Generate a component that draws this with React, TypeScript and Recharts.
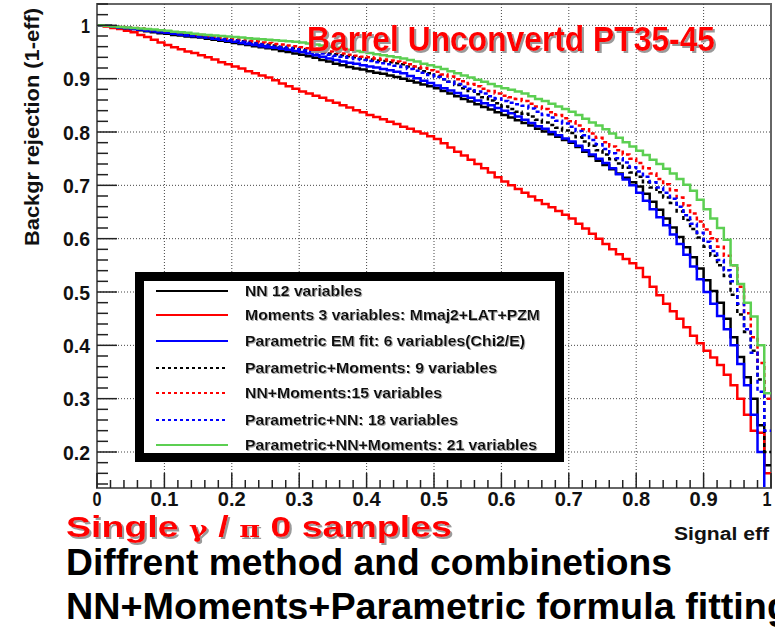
import { LineChart, Line, XAxis, YAxis, ReferenceLine, ReferenceArea } from 'recharts';

// background rejection per signal-eff bin (bin width 0.01, first bin at 0)
const BIN_WIDTH = 0.01;

const nn12 = [
  1.000, 0.999, 0.997, 0.996, 0.994, 0.993, 0.991, 0.989, 0.987, 0.985,
  0.984, 0.982, 0.981, 0.979, 0.978, 0.977, 0.975, 0.973, 0.971, 0.969,
  0.967, 0.965, 0.963, 0.961, 0.959, 0.957, 0.955, 0.952, 0.950, 0.947,
  0.945, 0.942, 0.939, 0.935, 0.932, 0.928, 0.925, 0.922, 0.919, 0.917,
  0.914, 0.911, 0.909, 0.906, 0.903, 0.900, 0.896, 0.893, 0.889, 0.886,
  0.882, 0.877, 0.872, 0.867, 0.862, 0.857, 0.852, 0.847, 0.842, 0.837,
  0.832, 0.827, 0.822, 0.817, 0.812, 0.806, 0.801, 0.796, 0.791, 0.785,
  0.780, 0.772, 0.763, 0.755, 0.746, 0.738, 0.730, 0.722, 0.714, 0.706,
  0.698, 0.684, 0.669, 0.654, 0.638, 0.621, 0.603, 0.584, 0.565, 0.544,
  0.522, 0.502, 0.480, 0.450, 0.415, 0.378, 0.340, 0.300, 0.250, 0.175,
];

const moments3 = [
  1.000, 0.998, 0.995, 0.993, 0.990, 0.987, 0.982, 0.978, 0.973, 0.968,
  0.963, 0.959, 0.955, 0.951, 0.948, 0.944, 0.940, 0.936, 0.931, 0.927,
  0.923, 0.919, 0.914, 0.910, 0.906, 0.902, 0.897, 0.891, 0.886, 0.881,
  0.876, 0.872, 0.868, 0.864, 0.859, 0.855, 0.850, 0.846, 0.841, 0.837,
  0.832, 0.828, 0.824, 0.819, 0.815, 0.810, 0.806, 0.801, 0.797, 0.792,
  0.787, 0.779, 0.771, 0.763, 0.756, 0.748, 0.740, 0.732, 0.724, 0.715,
  0.707, 0.700, 0.693, 0.686, 0.679, 0.672, 0.665, 0.659, 0.652, 0.645,
  0.638, 0.628, 0.619, 0.609, 0.600, 0.590, 0.580, 0.571, 0.562, 0.554,
  0.545, 0.528, 0.510, 0.494, 0.478, 0.464, 0.450, 0.434, 0.418, 0.404,
  0.390, 0.377, 0.363, 0.345, 0.325, 0.300, 0.270, 0.240, 0.236, 0.160,
];

const paramEm6 = [
  1.000, 0.999, 0.998, 0.996, 0.995, 0.993, 0.992, 0.990, 0.989, 0.987,
  0.986, 0.984, 0.983, 0.981, 0.980, 0.978, 0.977, 0.975, 0.973, 0.971,
  0.969, 0.967, 0.965, 0.963, 0.961, 0.959, 0.958, 0.956, 0.954, 0.952,
  0.950, 0.947, 0.944, 0.941, 0.938, 0.935, 0.932, 0.930, 0.928, 0.925,
  0.923, 0.921, 0.918, 0.916, 0.913, 0.910, 0.905, 0.901, 0.896, 0.892,
  0.887, 0.882, 0.878, 0.873, 0.868, 0.864, 0.859, 0.854, 0.850, 0.845,
  0.840, 0.835, 0.829, 0.823, 0.817, 0.811, 0.806, 0.800, 0.794, 0.788,
  0.782, 0.774, 0.766, 0.758, 0.750, 0.742, 0.732, 0.721, 0.711, 0.700,
  0.686, 0.671, 0.655, 0.640, 0.625, 0.608, 0.590, 0.570, 0.548, 0.524,
  0.500, 0.478, 0.455, 0.430, 0.400, 0.365, 0.325, 0.270, 0.200, 0.110,
];

const paramMom9 = [
  1.000, 0.999, 0.998, 0.997, 0.995, 0.994, 0.993, 0.991, 0.990, 0.988,
  0.987, 0.986, 0.984, 0.983, 0.981, 0.980, 0.978, 0.977, 0.975, 0.974,
  0.972, 0.970, 0.969, 0.967, 0.965, 0.964, 0.962, 0.960, 0.958, 0.957,
  0.955, 0.953, 0.951, 0.949, 0.947, 0.946, 0.944, 0.942, 0.940, 0.938,
  0.936, 0.934, 0.933, 0.931, 0.929, 0.927, 0.923, 0.919, 0.914, 0.910,
  0.905, 0.899, 0.894, 0.888, 0.882, 0.877, 0.871, 0.865, 0.859, 0.854,
  0.848, 0.843, 0.838, 0.834, 0.829, 0.823, 0.818, 0.813, 0.808, 0.803,
  0.798, 0.790, 0.782, 0.774, 0.766, 0.758, 0.749, 0.741, 0.733, 0.724,
  0.716, 0.706, 0.696, 0.687, 0.677, 0.667, 0.651, 0.635, 0.618, 0.602,
  0.585, 0.568, 0.550, 0.530, 0.495, 0.458, 0.425, 0.390, 0.336, 0.200,
];

const nnMom15 = [
  1.000, 0.999, 0.998, 0.997, 0.996, 0.995, 0.994, 0.992, 0.991, 0.990,
  0.989, 0.987, 0.986, 0.985, 0.983, 0.982, 0.980, 0.979, 0.977, 0.976,
  0.974, 0.973, 0.971, 0.970, 0.968, 0.967, 0.965, 0.964, 0.962, 0.961,
  0.959, 0.957, 0.955, 0.953, 0.951, 0.949, 0.947, 0.945, 0.943, 0.941,
  0.940, 0.938, 0.936, 0.934, 0.932, 0.930, 0.927, 0.923, 0.920, 0.916,
  0.913, 0.908, 0.904, 0.899, 0.895, 0.890, 0.886, 0.881, 0.877, 0.872,
  0.868, 0.865, 0.862, 0.858, 0.853, 0.848, 0.843, 0.837, 0.832, 0.826,
  0.820, 0.812, 0.805, 0.797, 0.789, 0.781, 0.773, 0.766, 0.758, 0.750,
  0.742, 0.732, 0.722, 0.712, 0.702, 0.691, 0.677, 0.662, 0.647, 0.632,
  0.617, 0.601, 0.585, 0.568, 0.550, 0.510, 0.460, 0.415, 0.367, 0.300,
];

const paramNn18 = [
  1.000, 0.999, 0.998, 0.996, 0.995, 0.994, 0.992, 0.991, 0.989, 0.988,
  0.986, 0.985, 0.983, 0.982, 0.980, 0.979, 0.977, 0.976, 0.974, 0.972,
  0.971, 0.969, 0.967, 0.966, 0.964, 0.962, 0.960, 0.959, 0.957, 0.955,
  0.953, 0.951, 0.949, 0.947, 0.945, 0.943, 0.941, 0.939, 0.937, 0.935,
  0.933, 0.931, 0.929, 0.927, 0.924, 0.922, 0.918, 0.915, 0.911, 0.907,
  0.903, 0.899, 0.894, 0.890, 0.885, 0.881, 0.876, 0.872, 0.867, 0.863,
  0.858, 0.855, 0.852, 0.849, 0.844, 0.838, 0.832, 0.827, 0.821, 0.816,
  0.810, 0.802, 0.794, 0.785, 0.777, 0.768, 0.760, 0.751, 0.743, 0.734,
  0.726, 0.716, 0.706, 0.696, 0.686, 0.675, 0.660, 0.644, 0.628, 0.611,
  0.594, 0.577, 0.560, 0.541, 0.520, 0.478, 0.430, 0.386, 0.313, 0.240,
];

const allVars21 = [
  1.000, 0.999, 0.998, 0.997, 0.996, 0.995, 0.994, 0.993, 0.992, 0.991,
  0.990, 0.988, 0.987, 0.986, 0.984, 0.983, 0.982, 0.981, 0.980, 0.979,
  0.978, 0.977, 0.976, 0.975, 0.974, 0.973, 0.972, 0.971, 0.970, 0.969,
  0.968, 0.966, 0.964, 0.962, 0.960, 0.958, 0.956, 0.954, 0.952, 0.950,
  0.948, 0.946, 0.944, 0.942, 0.940, 0.938, 0.935, 0.932, 0.928, 0.925,
  0.922, 0.918, 0.914, 0.910, 0.906, 0.902, 0.898, 0.894, 0.890, 0.886,
  0.882, 0.879, 0.876, 0.872, 0.867, 0.862, 0.858, 0.853, 0.848, 0.843,
  0.838, 0.832, 0.825, 0.818, 0.812, 0.805, 0.797, 0.789, 0.781, 0.773,
  0.765, 0.757, 0.748, 0.740, 0.731, 0.722, 0.712, 0.701, 0.690, 0.673,
  0.655, 0.638, 0.620, 0.598, 0.550, 0.515, 0.480, 0.454, 0.400, 0.310,
];

const xTicks = [
  0, 0.02, 0.04, 0.06, 0.08, 0.1, 0.12, 0.14, 0.16, 0.18, 0.2, 0.22, 0.24, 0.26, 0.28,
  0.3, 0.32, 0.34, 0.36, 0.38, 0.4, 0.42, 0.44, 0.46, 0.48, 0.5, 0.52, 0.54, 0.56, 0.58,
  0.6, 0.62, 0.64, 0.66, 0.68, 0.7, 0.72, 0.74, 0.76, 0.78, 0.8, 0.82, 0.84, 0.86, 0.88,
  0.9, 0.92, 0.94, 0.96, 0.98, 1,
];
const yTicks = [
  0.14, 0.16, 0.18, 0.2, 0.22, 0.24, 0.26, 0.28, 0.3, 0.32, 0.34, 0.36, 0.38, 0.4, 0.42,
  0.44, 0.46, 0.48, 0.5, 0.52, 0.54, 0.56, 0.58, 0.6, 0.62, 0.64, 0.66, 0.68, 0.7, 0.72,
  0.74, 0.76, 0.78, 0.8, 0.82, 0.84, 0.86, 0.88, 0.9, 0.92, 0.94, 0.96, 0.98, 1, 1.02, 1.04,
];
const xGrid = [0.1, 0.2, 0.3, 0.4, 0.5, 0.6, 0.7, 0.8, 0.9];
const yGrid = [0.2, 0.3, 0.4, 0.5, 0.6, 0.7, 0.8, 0.9, 1];

const series = [
  { key: 'nn12', values: nn12, name: 'NN 12 variables', color: '#000000', dash: undefined },
  { key: 'moments3', values: moments3, name: 'Moments 3 variables: Mmaj2+LAT+PZM', color: '#ff0000', dash: undefined },
  { key: 'paramEm6', values: paramEm6, name: 'Parametric EM fit: 6 variables(Chi2/E)', color: '#0000ff', dash: undefined },
  { key: 'paramMom9', values: paramMom9, name: 'Parametric+Moments: 9 variables', color: '#000000', dash: '4 3' },
  { key: 'nnMom15', values: nnMom15, name: 'NN+Moments:15 variables', color: '#ff0000', dash: '4 3' },
  { key: 'paramNn18', values: paramNn18, name: 'Parametric+NN: 18 variables', color: '#0000ff', dash: '4 3' },
  { key: 'allVars21', values: allVars21, name: 'Parametric+NN+Moments: 21 variables', color: '#5ccf52', dash: undefined },
];
const legendWidths = [117, 295, 280, 252, 197, 213, 292];

// histogram-style table: one row per bin start, plus a closing row at x = 1
const rows = nn12.map((_, i) => {
  const row: Record<string, number> = { x: +(i * BIN_WIDTH).toFixed(2) };
  series.forEach((s) => (row[s.key] = s.values[i]));
  return row;
});
rows.push({ ...rows[rows.length - 1], x: 1 });

const FONT = '"Liberation Sans", Arial, Helvetica, sans-serif';
const LEFT = 97;
const BOTTOM = 488;
const Y_MIN = 0.1325;
const Y_MAX = 1.04;

const isMajor = (v: number) => Math.abs(v * 10 - Math.round(v * 10)) < 1e-6;
const fmt = (v: number) => (v === 0 ? '0' : v === 1 ? '1' : v.toFixed(1));

function YTick({ y, payload }: any) {
  const v = payload.value;
  const major = isMajor(v);
  return (
    <g>
      <line x1={LEFT} x2={LEFT + (major ? 20 : 11)} y1={y} y2={y} stroke="#222" strokeWidth={1.5} />
      {major && (
        <text x={90} y={y} dy="0.36em" textAnchor="end" fontFamily={FONT} fontWeight="bold" fontSize={21}
          fill="#111" textLength={fmt(v).length > 1 ? 27 : 9} lengthAdjust="spacingAndGlyphs">
          {fmt(v)}
        </text>
      )}
    </g>
  );
}

function XTick({ x, payload }: any) {
  const v = payload.value;
  const major = isMajor(v);
  const cx = v === 1 ? x - 4 : x;
  return (
    <g>
      <line x1={x} x2={x} y1={BOTTOM} y2={BOTTOM - (major ? 15 : 8)} stroke="#222" strokeWidth={1.5} />
      {major && (
        <text x={cx} y={506} textAnchor="middle" fontFamily={FONT} fontWeight="bold" fontSize={21}
          fill="#111" textLength={fmt(v).length > 1 ? 28 : 9} lengthAdjust="spacingAndGlyphs">
          {fmt(v)}
        </text>
      )}
    </g>
  );
}

function Overlay() {
  const rowY = [291, 315, 341, 368, 393, 420, 445];
  return (
    <svg width={775} height={633} style={{ position: 'absolute', left: 0, top: 0, pointerEvents: 'none' }}>
      <defs>
        <filter id="shadow2" x="-5%" y="-20%" width="110%" height="150%">
          <feDropShadow dx={2} dy={2} stdDeviation={0.4} floodColor="#9a9a9a" floodOpacity={1} />
        </filter>
        <filter id="shadow1" x="-5%" y="-20%" width="110%" height="150%">
          <feDropShadow dx={1} dy={1} stdDeviation={0.3} floodColor="#a8a8a8" floodOpacity={1} />
        </filter>
      </defs>
      <text transform="translate(39,127) rotate(-90)" textAnchor="middle" fontFamily={FONT} fontWeight="bold"
        fontSize={20} fill="#111" textLength={238} lengthAdjust="spacingAndGlyphs">
        Backgr rejection (1-eff)
      </text>
      <text x={307} y={51} fontFamily={FONT} fontWeight="bold" fontSize={35} fill="#ff0000" filter="url(#shadow2)"
        textLength={408} lengthAdjust="spacingAndGlyphs">
        Barrel Unconvertd PT35-45
      </text>

      <rect x={139.5} y={276.5} width={420} height={181} fill="#ffffff" stroke="#000" strokeWidth={9} />
      {series.map((s, i) => (
        <g key={s.key}>
          <line x1={156} x2={228} y1={rowY[i]} y2={rowY[i]} stroke={s.color} strokeWidth={2.2}
            strokeDasharray={s.dash ? '3 3' : undefined} />
          <text x={245} y={rowY[i] + 5} fontFamily={FONT} fontWeight="bold" fontSize={15} fill="#111"
            filter="url(#shadow1)" textLength={legendWidths[i]} lengthAdjust="spacingAndGlyphs">
            {s.name}
          </text>
        </g>
      ))}

      <text x={66} y={537} fontFamily={FONT} fontWeight="bold" fontSize={29} fill="#ff0000" filter="url(#shadow2)"
        textLength={386} lengthAdjust="spacingAndGlyphs">
        Single  <tspan fontFamily="DejaVu Serif" fontSize={22}>γ</tspan> / <tspan fontFamily="DejaVu Serif" fontSize={22}>π</tspan> 0 samples
      </text>
      <text x={674} y={540} fontFamily={FONT} fontWeight="bold" fontSize={18} fill="#111" textLength={95}
        lengthAdjust="spacingAndGlyphs">Signal eff</text>
      <text x={66} y={575} fontFamily={FONT} fontWeight="bold" fontSize={37} fill="#000" textLength={606}
        lengthAdjust="spacingAndGlyphs">Diffrent method and combinetions</text>
      <text x={66} y={619} fontFamily={FONT} fontWeight="bold" fontSize={37} fill="#000" textLength={724}
        lengthAdjust="spacingAndGlyphs">NN+Moments+Parametric formula fitting</text>
    </svg>
  );
}

export default function App() {
  return (
    <div style={{ position: 'absolute', left: 0, top: 0, width: 775, height: 633, overflow: 'hidden', background: '#fff' }}>
      <LineChart width={775} height={633} data={rows} margin={{ top: 4, right: 4, left: 37, bottom: 105 }}>
        {xGrid.map((v) => (
          <ReferenceLine key={`gx${v}`} x={v} stroke="#444" strokeDasharray="1 2" strokeWidth={1} />
        ))}
        {yGrid.map((v) => (
          <ReferenceLine key={`gy${v}`} y={v} stroke="#444" strokeDasharray="1 2" strokeWidth={1} />
        ))}
        <XAxis dataKey="x" type="number" domain={[0, 1]} allowDataOverflow ticks={xTicks} interval={0}
          tick={<XTick />} tickLine={false} axisLine={{ stroke: '#666', strokeWidth: 2 }} height={40} />
        <YAxis type="number" domain={[Y_MIN, Y_MAX]} allowDataOverflow ticks={yTicks} interval={0}
          tick={<YTick />} tickLine={false} axisLine={{ stroke: '#666', strokeWidth: 2 }} width={60} />
        {series.map((s) => (
          <Line key={s.key} dataKey={s.key} name={s.name} type="stepAfter" stroke={s.color} strokeWidth={2.5}
            strokeDasharray={s.dash} dot={false} activeDot={false} isAnimationActive={false} />
        ))}
        <ReferenceArea x1={0} x2={1} y1={Y_MIN} y2={Y_MAX} fill="none" stroke="#666" strokeWidth={2} />
      </LineChart>
      <Overlay />
    </div>
  );
}
